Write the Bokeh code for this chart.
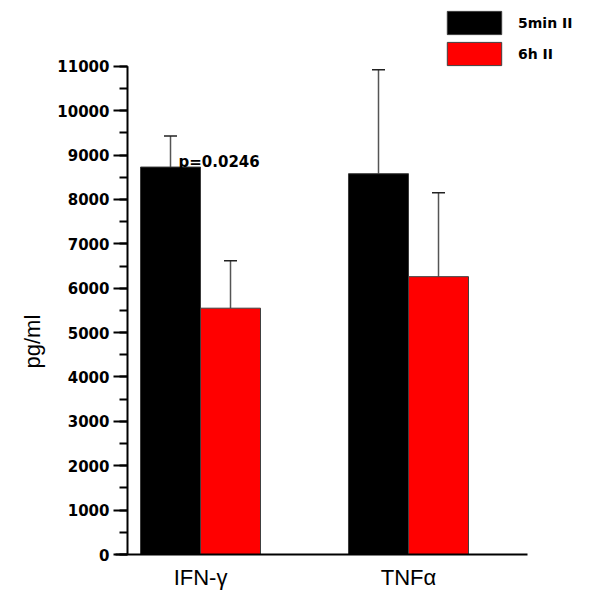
from bokeh.plotting import figure
from bokeh.models import (ColumnDataSource, Range1d, FixedTicker, Whisker, TeeHead,
                          Legend, LegendItem, Label, Title)
from bokeh.embed import file_html
from bokeh.resources import INLINE

# Cytokine concentrations (pg/ml), mean and upper error
cytokines = ["IFN-γ", "TNFα"]
series_names = ["5min II", "6h II"]
mean_5min = [8730, 8580]
err_5min = [700, 2340]
mean_6h = [5550, 6260]
err_6h = [1070, 1890]
p_value_text = "p=0.0246"
y_label = "pg/ml"
y_max = 11000

BAR_W = 0.2885
group_x = list(range(len(cytokines)))

src_5min = ColumnDataSource(dict(
    x=[g - BAR_W / 2 for g in group_x],
    top=mean_5min,
    upper=[m + e for m, e in zip(mean_5min, err_5min)],
))
src_6h = ColumnDataSource(dict(
    x=[g + BAR_W / 2 for g in group_x],
    top=mean_6h,
    upper=[m + e for m, e in zip(mean_6h, err_6h)],
))

X_START, X_END = -0.4087, 1.8798
X_AXIS_END = 1.572
Y_AXIS_X = -0.351
p = figure(frame_width=476, frame_height=549,
           x_range=Range1d(X_START, X_END), y_range=Range1d(0, 12370),
           output_backend="svg", toolbar_location=None,
           min_border_left=115, min_border_right=0,
           min_border_top=5, min_border_bottom=40)
p.outline_line_color = None
p.grid.visible = False
p.background_fill_color = "white"
p.border_fill_color = "white"

r_5min = p.vbar(x="x", top="top", width=BAR_W, source=src_5min,
                fill_color="black", line_color="#3a3a3a", line_width=1)
r_6h = p.vbar(x="x", top="top", width=BAR_W, source=src_6h,
              fill_color="#ff0000", line_color="#404040", line_width=1)

for src in (src_5min, src_6h):
    p.add_layout(Whisker(source=src, base="x", lower="top", upper="upper",
                         dimension="height", lower_head=None,
                         upper_head=TeeHead(size=13, line_color="#222222", line_width=1.5),
                         line_color="#555555", line_width=1.5))

# significance annotation above the first black bar
p.add_layout(Label(x=src_5min.data["x"][0], y=mean_5min[0], text=p_value_text,
                   x_offset=8, y_offset=5, text_baseline="alphabetic",
                   text_font="DejaVu Sans", text_font_style="bold",
                   text_font_size="15px", text_color="black"))

# y axis line sits a little inside the frame so the baseline sticks out to the left
p.segment(x0=[Y_AXIS_X], y0=[0], x1=[Y_AXIS_X], y1=[y_max],
          line_color="black", line_width=2)
yax = p.yaxis[0]
yax.ticker = FixedTicker(ticks=list(range(0, y_max + 1, 1000)),
                         minor_ticks=list(range(0, y_max + 1, 500)))
yax.axis_line_color = None
yax.major_tick_line_width = 2
yax.minor_tick_line_width = 2
yax.major_tick_out = 2
yax.major_tick_in = 12
yax.minor_tick_out = -4
yax.minor_tick_in = 12
yax.major_label_standoff = 4
yax.major_label_text_font = "DejaVu Sans"
yax.major_label_text_font_style = "bold"
yax.major_label_text_font_size = "15px"
yax.major_label_text_color = "black"

# vertical unit label, placed beside the middle of the value axis
p.add_layout(Title(text=y_label, align="left", offset=186, standoff=20,
                   text_font="Liberation Sans", text_font_style="normal",
                   text_font_size="22px", text_color="black"), "left")

# x axis
xax = p.xaxis[0]
xax.ticker = FixedTicker(ticks=group_x, minor_ticks=[])
xax.bounds = (X_START, X_AXIS_END)
xax.major_label_overrides = {g: c for g, c in zip(group_x, cytokines)}
xax.axis_line_width = 2
xax.major_tick_out = 0
xax.major_tick_in = 0
xax.minor_tick_out = 0
xax.minor_tick_in = 0
xax.major_tick_line_color = None
xax.minor_tick_line_color = None
xax.major_label_standoff = 10
xax.major_label_text_font = "Liberation Sans"
xax.major_label_text_font_size = "22px"
xax.major_label_text_color = "black"

legend = Legend(items=[LegendItem(label=series_names[0], renderers=[r_5min]),
                       LegendItem(label=series_names[1], renderers=[r_6h])],
                location=(325, 486), orientation="vertical",
                glyph_width=68, glyph_height=29, spacing=2, padding=0, margin=0,
                label_standoff=10, label_text_font="DejaVu Sans",
                label_text_font_style="bold", label_text_font_size="14px",
                label_text_color="black",
                border_line_color=None, background_fill_alpha=0)
p.add_layout(legend, "center")

open("out.html", "w").write(file_html(p, INLINE))
